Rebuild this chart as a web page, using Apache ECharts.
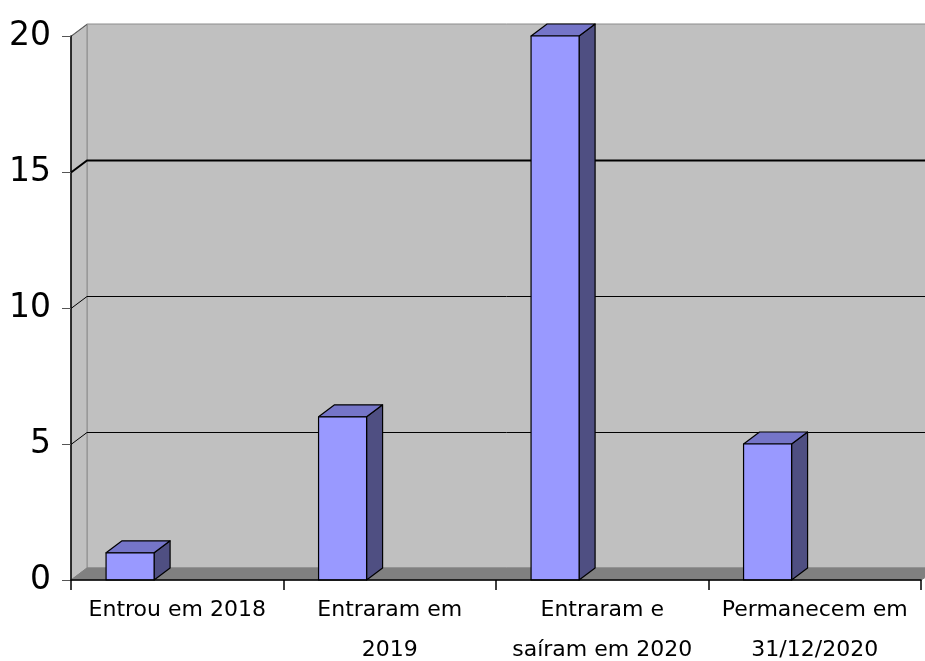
<!DOCTYPE html>
<html>
<head>
<meta charset="utf-8">
<script src="https://cdn.jsdelivr.net/npm/echarts@6/dist/echarts.min.js"></script>
<style>
html,body{margin:0;padding:0;background:#fff;}
#main{width:925px;height:661px;}
</style>
</head>
<body>
<div id="main"></div>
<script>
var categories = ['Entrou em 2018', 'Entraram em\n2019', 'Entraram e\nsaíram em 2020', 'Permanecem em\n31/12/2020'];
var values = [1, 6, 20, 5];
var yTicks = [0, 5, 10, 15, 20];

var DX = 16, DY = -12; // profundidade 3D

var myChart = echarts.init(document.getElementById('main'));

function renderWalls(params, api) {
  var cs = params.coordSys;
  var v = api.value(0);
  var y = Math.round(api.coord([0, v])[1]) + 0.5;
  var x0 = cs.x, x1 = cs.x + cs.width;
  var children = [];
  if (params.dataIndex === 0) {
    var yb = cs.y + cs.height, yt = cs.y;
    // parede do fundo
    children.push({type: 'rect', shape: {x: x0 + DX, y: yt + DY, width: cs.width + 20, height: cs.height},
      style: {fill: '#c0c0c0', stroke: '#8c8c8c', lineWidth: 1}});
    // parede lateral
    children.push({type: 'polygon', shape: {points: [[x0, yt], [x0 + DX, yt + DY], [x0 + DX, yb + DY], [x0, yb]]},
      style: {fill: '#c0c0c0', stroke: '#8c8c8c', lineWidth: 1}});
    // piso
    children.push({type: 'polygon', shape: {points: [[x0, yb], [x0 + DX, yb + DY], [x1 + 20, yb + DY], [x1, yb]]},
      style: {fill: '#808080', stroke: '#808080', lineWidth: 1}});
  }
  if (v > 0 && v < 20) {
    var w = v === 15 ? 2 : 1;
    children.push({type: 'polyline', shape: {points: [[x0, y], [x0 + DX, y + DY], [x1 + 20, y + DY]]},
      style: {stroke: '#000', lineWidth: w, fill: null}});
  } else if (v === 20) {
    children.push({type: 'line', shape: {x1: x0, y1: y, x2: x0 + DX, y2: y + DY},
      style: {stroke: '#555', lineWidth: 1}});
  }
  return {type: 'group', children: children};
}

function renderBar(params, api) {
  var idx = api.value(0);
  var top = api.coord([idx, api.value(1)]);
  var base = api.coord([idx, 0]);
  var band = api.size([1, 0])[0];
  var left = top[0] - band / 2 + band * 0.165;
  var w = band * 0.226;
  var right = left + w;
  var border = {stroke: '#000', lineWidth: 1.2, lineJoin: 'round'};
  return {
    type: 'group',
    children: [
      {type: 'polygon', shape: {points: [[right, top[1]], [right + DX, top[1] + DY], [right + DX, base[1] + DY], [right, base[1]]]},
        style: Object.assign({fill: '#4f4f82'}, border)},
      {type: 'polygon', shape: {points: [[left, top[1]], [left + DX, top[1] + DY], [right + DX, top[1] + DY], [right, top[1]]]},
        style: Object.assign({fill: '#7575c8'}, border)},
      {type: 'rect', shape: {x: left, y: top[1], width: w, height: base[1] - top[1]},
        style: Object.assign({fill: '#9999ff'}, border)}
    ]
  };
}

var option = {
  backgroundColor: '#fff',
  animation: false,
  grid: {left: 71, right: 4, top: 36, bottom: 81, outerBoundsMode: 'none', containLabel: false},
  xAxis: {
    type: 'category',
    data: categories,
    z: 5,
    axisLine: {lineStyle: {color: '#000', width: 1.5}},
    axisTick: {show: true, interval: 0, length: 10, lineStyle: {color: '#000', width: 1.5}},
    axisLabel: {interval: 0, color: '#000', fontFamily: 'DejaVu Sans', fontSize: 22, lineHeight: 40, margin: 10}
  },
  yAxis: {
    type: 'value',
    min: 0, max: 20, interval: 5,
    z: 5,
    splitLine: {show: false},
    axisLine: {show: true, lineStyle: {color: '#000', width: 1.5}},
    axisTick: {show: true, length: 9, lineStyle: {color: '#555', width: 1}},
    axisLabel: {color: '#000', fontFamily: 'DejaVu Sans', fontSize: 33, margin: 20}
  },
  series: [
    {
      type: 'custom',
      name: 'paredes',
      z: 1,
      clip: false,
      silent: true,
      renderItem: renderWalls,
      encode: {x: -1, y: 0},
      data: yTicks.map(function (t) { return [t]; })
    },
    {
      type: 'custom',
      name: 'valores',
      z: 3,
      clip: false,
      renderItem: renderBar,
      encode: {x: 0, y: 1},
      data: values.map(function (v, i) { return [i, v]; })
    }
  ]
};

myChart.setOption(option);
</script>
</body>
</html>
